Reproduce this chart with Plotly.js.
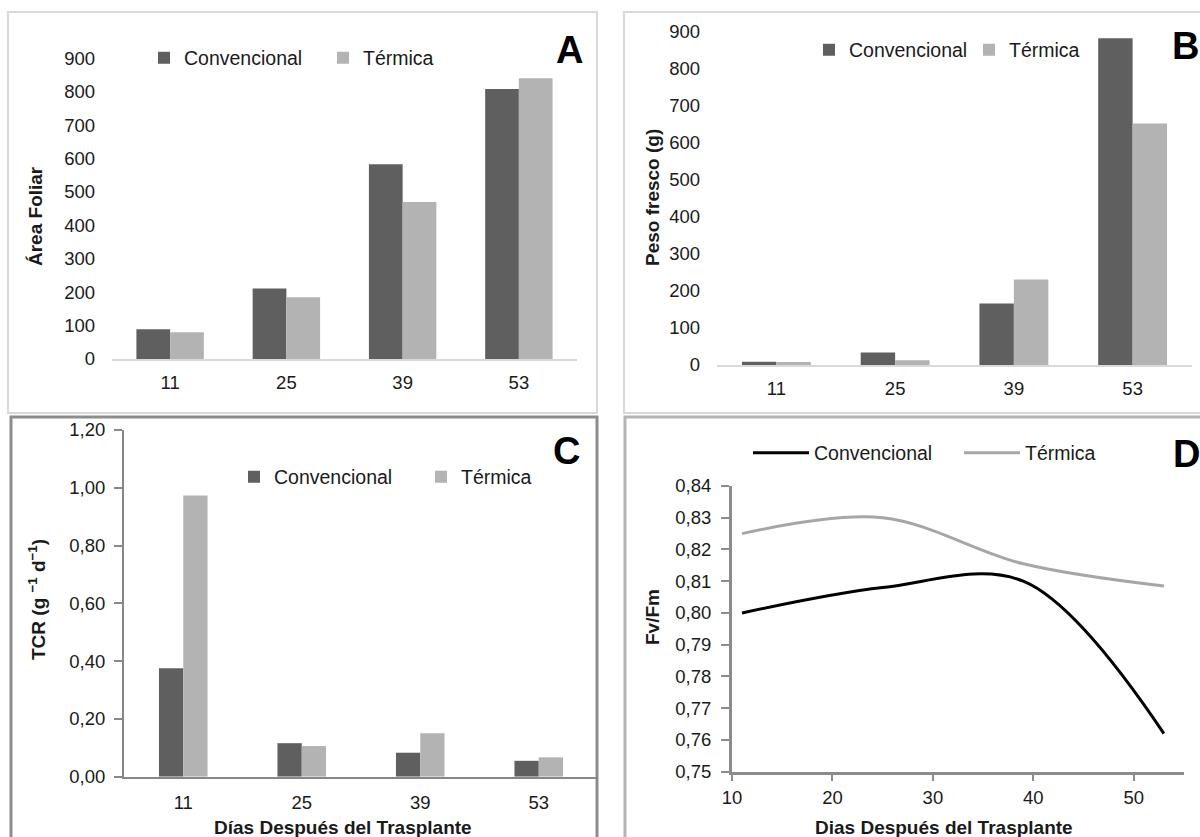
<!DOCTYPE html>
<html>
<head>
<meta charset="utf-8">
<script src="https://cdn.plot.ly/plotly-3.0.1.min.js"></script>
<style>html,body{margin:0;padding:0;background:#fff;}#chart{width:1200px;height:837px;}</style>
</head>
<body>
<div id="chart"></div>
<script>
// ---- data ----
const categories = ['11', '25', '39', '53'];
const areaConv = [89, 211, 583, 808];
const areaTerm = [80, 185, 470, 840];
const pesoConv = [9, 34, 166, 882];
const pesoTerm = [8, 13, 231, 652];
const tcrConv = [0.375, 0.116, 0.083, 0.055];
const tcrTerm = [0.973, 0.106, 0.150, 0.067];
const days = [11, 25, 39, 53];
const fvfmConv = [0.800, 0.808, 0.810, 0.762];
const fvfmTerm = [0.825, 0.830, 0.8155, 0.8085];
const seriesNames = ['Convencional', 'Térmica'];
const panelLetters = ['A', 'B', 'C', 'D'];

const W = 1200, H = 837;
const px = v => v / W;
const py = v => 1 - v / H;
const FONT = 'Liberation Sans, Arial, sans-serif';
const TXT = '#1a1a1a';
const CONV = '#5f5f5f', TERM = '#b3b3b3';

const traces = [
  {type: 'bar', x: categories, y: areaConv, name: seriesNames[0], marker: {color: CONV}, xaxis: 'x', yaxis: 'y', legend: 'legend'},
  {type: 'bar', x: categories, y: areaTerm, name: seriesNames[1], marker: {color: TERM}, xaxis: 'x', yaxis: 'y', legend: 'legend'},
  {type: 'bar', x: categories, y: pesoConv, name: seriesNames[0], marker: {color: CONV}, xaxis: 'x2', yaxis: 'y2', legend: 'legend2'},
  {type: 'bar', x: categories, y: pesoTerm, name: seriesNames[1], marker: {color: TERM}, xaxis: 'x2', yaxis: 'y2', legend: 'legend2'},
  {type: 'bar', x: categories, y: tcrConv, name: seriesNames[0], marker: {color: CONV}, xaxis: 'x3', yaxis: 'y3', legend: 'legend3', width: 0.205, offset: -0.205},
  {type: 'bar', x: categories, y: tcrTerm, name: seriesNames[1], marker: {color: TERM}, xaxis: 'x3', yaxis: 'y3', legend: 'legend3', width: 0.205, offset: 0},
  {type: 'scatter', mode: 'lines', x: days, y: fvfmConv, name: seriesNames[0], line: {color: '#000000', width: 3, shape: 'spline', smoothing: 1}, xaxis: 'x4', yaxis: 'y4', legend: 'legend4'},
  {type: 'scatter', mode: 'lines', x: days, y: fvfmTerm, name: seriesNames[1], line: {color: '#a6a6a6', width: 3, shape: 'spline', smoothing: 1}, xaxis: 'x4', yaxis: 'y4', legend: 'legend4'}
];

const tickFont = {family: FONT, size: 18.5, color: TXT};
const legFont = {family: FONT, size: 19.5, color: TXT};
const titleFont = {family: FONT, size: 19, color: TXT, weight: 'bold'};

function legend(x, y, ew, iw) {
  const o = {x: x, y: y, xanchor: 'left', yanchor: 'middle', orientation: 'h', bgcolor: 'rgba(0,0,0,0)',
    font: legFont, entrywidth: ew, entrywidthmode: 'pixels', itemclick: false, traceorder: 'normal'};
  if (iw) o.itemwidth = iw;
  return o;
}

const layout = {
  width: W, height: H,
  margin: {l: 0, r: 0, t: 0, b: 0},
  paper_bgcolor: '#ffffff', plot_bgcolor: '#ffffff',
  separators: ',.',
  barmode: 'group',
  showlegend: true,
  font: {family: FONT, color: TXT},
  // A
  xaxis: {domain: [px(112), px(577)], anchor: 'y', type: 'category', range: [-0.5, 3.5], showline: true, linecolor: '#d9d9d9', linewidth: 2, showgrid: false, zeroline: false, ticks: '', tickfont: tickFont, ticklabelstandoff: 6, fixedrange: true},
  yaxis: {domain: [py(359), py(58.3)], anchor: 'x', range: [0, 900], dtick: 100, showline: false, showgrid: false, zeroline: false, ticks: '', tickfont: tickFont, ticklabelstandoff: 16, fixedrange: true},
  // B
  xaxis2: {domain: [px(717), px(1192)], anchor: 'y2', type: 'category', range: [-0.5, 3.5], showline: true, linecolor: '#d9d9d9', linewidth: 2, showgrid: false, zeroline: false, ticks: '', tickfont: tickFont, ticklabelstandoff: 6, fixedrange: true},
  yaxis2: {domain: [py(365), py(31.7)], anchor: 'x2', range: [0, 900], dtick: 100, showline: false, showgrid: false, zeroline: false, ticks: '', tickfont: tickFont, ticklabelstandoff: 16, fixedrange: true},
  // C
  xaxis3: {domain: [px(124), px(598)], anchor: 'y3', type: 'category', range: [-0.5, 3.5], showline: true, linecolor: '#878787', linewidth: 2, showgrid: false, zeroline: false, ticks: '', tickfont: tickFont, ticklabelstandoff: 8, fixedrange: true},
  yaxis3: {domain: [py(776.7), py(430)], anchor: 'x3', range: [0, 1.2], dtick: 0.2, tickformat: '.2f', showline: true, linecolor: '#878787', linewidth: 2, ticks: 'outside', ticklen: 8, tickwidth: 2, tickcolor: '#878787', showgrid: false, zeroline: false, tickfont: tickFont, ticklabelstandoff: 5, fixedrange: true},
  // D
  xaxis4: {domain: [px(732), px(1184)], anchor: 'y4', range: [10, 55], tickvals: [10, 20, 30, 40, 50], showline: true, linecolor: '#8c8c8c', linewidth: 3, ticks: 'outside', ticklen: 6, tickwidth: 2, tickcolor: '#8c8c8c', showgrid: false, zeroline: false, tickfont: tickFont, ticklabelstandoff: 1, fixedrange: true},
  yaxis4: {domain: [py(771.7), py(486)], anchor: 'x4', range: [0.75, 0.84], dtick: 0.01, tickformat: '.2f', showline: true, linecolor: '#8c8c8c', linewidth: 3, ticks: 'outside', ticklen: 8, tickwidth: 2, tickcolor: '#8c8c8c', showgrid: false, zeroline: false, tickfont: tickFont, ticklabelstandoff: 6, fixedrange: true},
  bargap: 0.42,
  legend: legend(px(144), py(58), 134),
  legend2: legend(px(809), py(50), 115),
  legend3: legend(px(234), py(477), 142),
  legend4: legend(px(748), py(453), 140, 56),
  shapes: [
    {type: 'rect', xref: 'paper', yref: 'paper', x0: px(8), x1: px(597), y0: py(413), y1: py(12), line: {color: '#d9d9d9', width: 2}, layer: 'below'},
    {type: 'rect', xref: 'paper', yref: 'paper', x0: px(624), x1: px(1210), y0: py(413), y1: py(12), line: {color: '#d9d9d9', width: 2}, layer: 'below'},
    {type: 'rect', xref: 'paper', yref: 'paper', x0: px(11), x1: px(597), y0: py(850), y1: py(417), line: {color: '#8c8c8c', width: 3}, layer: 'below'},
    {type: 'rect', xref: 'paper', yref: 'paper', x0: px(625), x1: px(1210), y0: py(850), y1: py(417), line: {color: '#b4b4b4', width: 3}, layer: 'below'}
  ],
  annotations: [
    {text: panelLetters[0], xref: 'paper', yref: 'paper', x: px(569), y: py(50), xanchor: 'center', yanchor: 'middle', showarrow: false, font: {family: FONT, size: 38, color: '#000', weight: 'bold'}},
    {text: panelLetters[1], xref: 'paper', yref: 'paper', x: px(1185), y: py(46), xanchor: 'center', yanchor: 'middle', showarrow: false, font: {family: FONT, size: 38, color: '#000', weight: 'bold'}},
    {text: panelLetters[2], xref: 'paper', yref: 'paper', x: px(566), y: py(451), xanchor: 'center', yanchor: 'middle', showarrow: false, font: {family: FONT, size: 38, color: '#000', weight: 'bold'}},
    {text: panelLetters[3], xref: 'paper', yref: 'paper', x: px(1186), y: py(454), xanchor: 'center', yanchor: 'middle', showarrow: false, font: {family: FONT, size: 38, color: '#000', weight: 'bold'}},
    {text: 'Área Foliar', xref: 'paper', yref: 'paper', x: px(35), y: py(216), textangle: -90, xanchor: 'center', yanchor: 'middle', showarrow: false, font: titleFont},
    {text: 'Peso fresco (g)', xref: 'paper', yref: 'paper', x: px(652), y: py(198), textangle: -90, xanchor: 'center', yanchor: 'middle', showarrow: false, font: titleFont},
    {text: 'TCR (g <sup>−1</sup> d<sup>−1</sup>)', xref: 'paper', yref: 'paper', x: px(37), y: py(600), textangle: -90, xanchor: 'center', yanchor: 'middle', showarrow: false, font: titleFont},
    {text: 'Fv/Fm', xref: 'paper', yref: 'paper', x: px(652), y: py(617), textangle: -90, xanchor: 'center', yanchor: 'middle', showarrow: false, font: titleFont},
    {text: 'Días Después del Trasplante', xref: 'paper', yref: 'paper', x: px(343), y: py(827), xanchor: 'center', yanchor: 'middle', showarrow: false, font: titleFont},
    {text: 'Dias Después del Trasplante', xref: 'paper', yref: 'paper', x: px(944), y: py(827), xanchor: 'center', yanchor: 'middle', showarrow: false, font: titleFont}
  ]
};

Plotly.newPlot('chart', traces, layout, {staticPlot: true, displayModeBar: false});
</script>
</body>
</html>
